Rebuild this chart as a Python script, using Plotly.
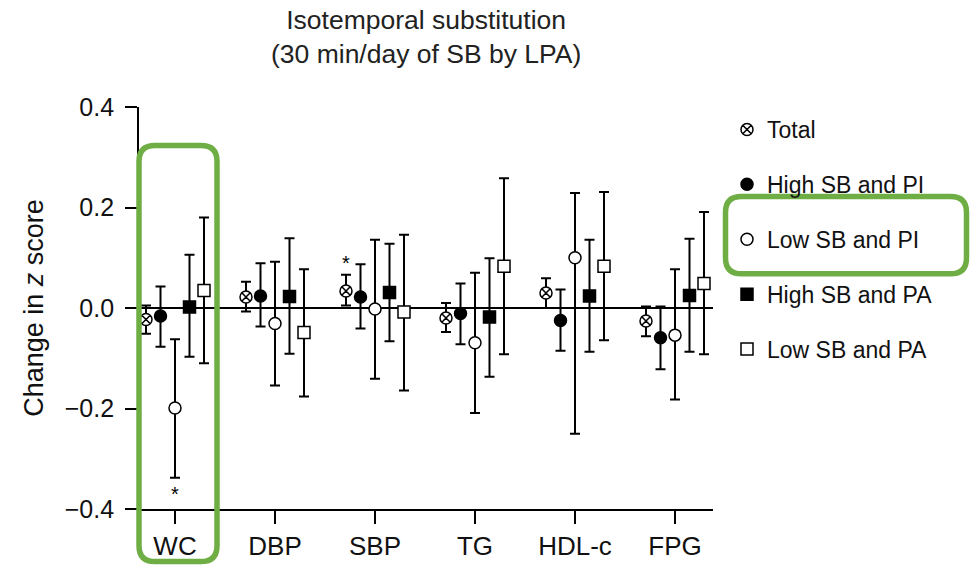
import plotly.graph_objects as go

categories = ["WC", "DBP", "SBP", "TG", "HDL-c", "FPG"]
series_names = ["Total", "High SB and PI", "Low SB and PI", "High SB and PA", "Low SB and PA"]

total_est = [-0.023, 0.022, 0.034, -0.020, 0.030, -0.026]
total_lo = [-0.051, -0.007, 0.005, -0.048, 0.000, -0.056]
total_hi = [0.005, 0.052, 0.066, 0.010, 0.059, 0.003]

hsbpi_est = [-0.016, 0.024, 0.022, -0.011, -0.025, -0.059]
hsbpi_lo = [-0.077, -0.037, -0.041, -0.072, -0.085, -0.122]
hsbpi_hi = [0.043, 0.089, 0.087, 0.049, 0.037, 0.003]

lsbpi_est = [-0.199, -0.031, -0.002, -0.069, 0.100, -0.054]
lsbpi_lo = [-0.338, -0.154, -0.141, -0.209, -0.250, -0.182]
lsbpi_hi = [-0.062, 0.092, 0.136, 0.070, 0.229, 0.077]

hsbpa_est = [0.002, 0.023, 0.031, -0.018, 0.024, 0.025]
hsbpa_lo = [-0.097, -0.091, -0.066, -0.137, -0.087, -0.087]
hsbpa_hi = [0.106, 0.139, 0.128, 0.099, 0.136, 0.138]

lsbpa_est = [0.035, -0.049, -0.008, 0.083, 0.083, 0.049]
lsbpa_lo = [-0.110, -0.176, -0.164, -0.092, -0.064, -0.092]
lsbpa_hi = [0.180, 0.077, 0.146, 0.258, 0.231, 0.191]

yticks = [-0.4, -0.2, 0.0, 0.2, 0.4]
ytick_labels = ["\u22120.4", "\u22120.2", "0.0", "0.2", "0.4"]

# significance markers: (category, series index, position)
sig_marks = [("WC", 2, "below"), ("SBP", 0, "above")]

ests = [total_est, hsbpi_est, lsbpi_est, hsbpa_est, lsbpa_est]
los = [total_lo, hsbpi_lo, lsbpi_lo, hsbpa_lo, lsbpa_lo]
his = [total_hi, hsbpi_hi, lsbpi_hi, hsbpa_hi, lsbpa_hi]

symbols = ["circle-x", "circle", "circle", "square", "square"]
fills = ["white", "black", "white", "black", "white"]
offsets = [-0.29, -0.145, 0.0, 0.145, 0.29]

FONT = "Liberation Sans, Arial, Helvetica, sans-serif"

fig = go.Figure()
for i, name in enumerate(series_names):
    xs = [k + offsets[i] for k in range(len(categories))]
    fig.add_trace(go.Scatter(
        x=xs, y=ests[i], mode="markers", name=name, legendgroup=name,
        marker=dict(symbol=symbols[i], size=12, color=fills[i],
                    line=dict(color="black", width=1.5)),
        error_y=dict(type="data", symmetric=False,
                     array=[h - e for h, e in zip(his[i], ests[i])],
                     arrayminus=[e - l for e, l in zip(ests[i], los[i])],
                     color="black", thickness=2, width=5),
    ))

for cat, si, pos in sig_marks:
    k = categories.index(cat)
    if pos == "below":
        yv, yanchor, shift = los[si][k], "top", -3
    else:
        yv, yanchor, shift = his[si][k], "bottom", -1
    fig.add_annotation(x=k + offsets[si], y=yv, text="*", showarrow=False,
                       yanchor=yanchor, yshift=shift,
                       font=dict(size=20, color="black", family=FONT))

# plot area in pixels
L, T, R, B = 139, 107, 713, 513
W, H = R - L, B - T
GREEN = "#6fae45"

def rounded_box(x0, y0, x1, y1, r):
    def px(x):
        return (x - L) / W
    def py(y):
        return (B - y) / H
    p = (f"M {px(x0 + r)},{py(y0)} L {px(x1 - r)},{py(y0)} "
         f"Q {px(x1)},{py(y0)} {px(x1)},{py(y0 + r)} "
         f"L {px(x1)},{py(y1 - r)} Q {px(x1)},{py(y1)} {px(x1 - r)},{py(y1)} "
         f"L {px(x0 + r)},{py(y1)} Q {px(x0)},{py(y1)} {px(x0)},{py(y1 - r)} "
         f"L {px(x0)},{py(y0 + r)} Q {px(x0)},{py(y0)} {px(x0 + r)},{py(y0)} Z")
    return dict(type="path", xref="paper", yref="paper", path=p,
                line=dict(color=GREEN, width=5.5), layer="above")

fig.add_shape(rounded_box(139, 146, 217, 566, 16))
fig.add_shape(rounded_box(725.5, 197.5, 966.5, 275.5, 16))

fig.add_annotation(text="Isotemporal substitution<br>(30 min/day of SB by LPA)",
                   xref="paper", yref="paper", x=0.5, y=(B - 2) / H,
                   xanchor="center", yanchor="top", showarrow=False,
                   font=dict(size=26.5, color="#222", family=FONT))

fig.update_layout(
    width=974, height=573,
    margin=dict(l=L, r=974 - R, t=T, b=573 - B),
    plot_bgcolor="white", paper_bgcolor="white",
    font=dict(family=FONT, color="black"),
    showlegend=True,
    legend=dict(x=(727 - L) / W, xanchor="left", y=(B - 108) / H, yanchor="top",
                font=dict(size=23, color="#111"), tracegroupgap=22,
                bgcolor="rgba(0,0,0,0)", itemclick=False),
    xaxis=dict(range=[-0.36, 5.38], tickmode="array",
               tickvals=list(range(len(categories))), ticktext=categories,
               showgrid=False, zeroline=False, showline=True, linecolor="black",
               linewidth=2, ticks="outside", ticklen=13, tickwidth=1.5,
               tickcolor="black", tickfont=dict(size=26, color="#111")),
    yaxis=dict(range=[-0.4, 0.4], tickmode="array", tickvals=yticks,
               ticktext=ytick_labels, showgrid=False, zeroline=True,
               zerolinecolor="black", zerolinewidth=2, showline=True,
               linecolor="black", linewidth=1.8, ticks="outside", ticklen=12,
               tickwidth=1.5, tickcolor="black", ticklabelstandoff=6,
               tickfont=dict(size=25, color="#111"),
               title=dict(text="Change in <i>z</i> score", standoff=13,
                          font=dict(size=27, color="#111"))),
)

fig.write_html("out.html", config={"displayModeBar": False},
               post_script="document.body.style.margin='0px';")
